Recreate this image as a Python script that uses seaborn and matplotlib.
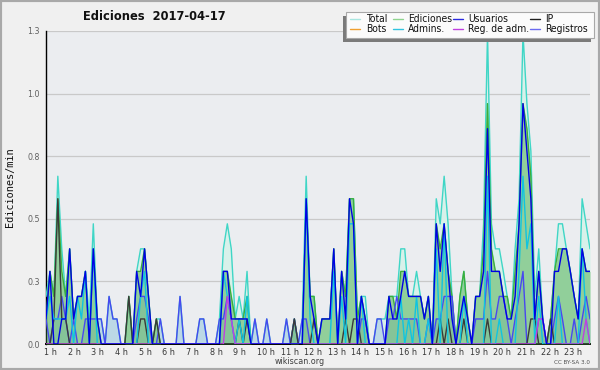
import os
import numpy as np
import pandas as pd
import matplotlib
matplotlib.use("Agg")
import matplotlib.pyplot as plt
import matplotlib.transforms as mtransforms
from matplotlib import font_manager as fm
from matplotlib.patches import Rectangle
from matplotlib.lines import Line2D
import seaborn as sns

# ---------------- data (Ediciones/min, 10-minute samples from 1 h to 24 h) ----------------
minutes = np.arange(60, 1441, 10)

total = [
    .19, .29, .19, .67, .38, .19, .38, .10, .19, .19,
    .29, .10, .48, .10, .10, 0, .19, .10, .10, 0,
    0, .19, 0, .29, .38, .38, .19, 0, .10, .10,
    0, 0, 0, 0, .19, 0, 0, 0, 0, .10,
    .10, 0, 0, 0, .10, .38, .48, .38, .10, .19,
    .10, .29, 0, .10, 0, 0, .10, 0, 0, 0,
    0, .10, 0, .10, 0, .10, .67, .19, .19, 0,
    .10, .10, .10, .38, 0, .29, .19, .58, .58, .10,
    .19, .19, 0, 0, .10, .10, .10, .19, .19, .19,
    .38, .38, .19, .19, .29, .19, .10, .19, 0, .58,
    .48, .67, .48, .19, 0, .19, .29, .10, 0, .19,
    .19, .48, 1.24, .48, .38, .38, .29, .19, .10, .38,
    .58, 1.24, .96, .77, .19, .38, .10, 0, .10, .29,
    .48, .48, .38, .29, .19, .10, .58, .48, .38]

ediciones = [
    .10, .29, .19, .58, .29, .19, .38, .10, .19, .19,
    .29, 0, .38, .10, 0, 0, 0, 0, 0, 0,
    0, .19, 0, .29, .29, .38, .19, 0, .10, 0,
    0, 0, 0, 0, 0, 0, 0, 0, 0, 0,
    0, 0, 0, 0, 0, .29, .29, .19, .10, .10,
    .10, .19, 0, 0, 0, 0, 0, 0, 0, 0,
    0, 0, 0, .10, 0, 0, .58, .19, .19, 0,
    .10, .10, .10, .38, 0, .29, .19, .58, .58, .10,
    .19, .10, 0, 0, 0, 0, 0, .19, .19, .10,
    .29, .29, .19, .19, .19, .19, .10, .19, 0, .48,
    .38, .48, .29, .19, 0, .19, .29, .10, 0, .19,
    .19, .38, .96, .38, .29, .29, .19, .19, .10, .29,
    .48, .96, .86, .67, .10, .29, .10, 0, .10, .29,
    .38, .38, .38, .29, .19, .10, .38, .29, .29]

usuarios = [
    .10, .29, 0, 0, .10, .10, .38, .10, .19, .19,
    .29, 0, .38, .10, 0, 0, 0, 0, 0, 0,
    0, 0, 0, .29, .19, .38, .19, 0, 0, 0,
    0, 0, 0, 0, 0, 0, 0, 0, 0, 0,
    0, 0, 0, 0, 0, .29, .29, .10, .10, .10,
    .10, .10, 0, 0, 0, 0, 0, 0, 0, 0,
    0, 0, 0, 0, 0, 0, .58, .19, .10, 0,
    .10, .10, .10, .38, 0, .29, .10, .58, .48, 0,
    .19, .10, 0, 0, 0, 0, 0, .19, .10, .10,
    .19, .29, .19, .19, .19, .19, .10, .19, 0, .48,
    .29, .48, .29, .10, 0, .10, .19, .10, 0, .19,
    .19, .29, .86, .29, .29, .29, .19, .10, .10, .19,
    .48, .96, .77, .58, .10, .29, .10, 0, 0, .29,
    .29, .38, .38, .29, .19, .10, .38, .29, .29]

ip = [
    0, 0, .10, .58, .10, .10, 0, 0, 0, 0,
    0, 0, 0, 0, 0, 0, 0, 0, 0, 0,
    0, .19, 0, 0, .10, .10, 0, 0, .10, 0,
    0, 0, 0, 0, 0, 0, 0, 0, 0, 0,
    0, 0, 0, 0, 0, 0, 0, 0, 0, .10,
    0, .10, 0, 0, 0, 0, 0, 0, 0, 0,
    0, 0, 0, .10, 0, 0, 0, 0, .10, 0,
    0, 0, 0, 0, 0, 0, .10, 0, .10, .10,
    0, 0, 0, 0, 0, 0, 0, 0, 0, 0,
    0, 0, 0, 0, 0, 0, 0, 0, 0, 0,
    .10, 0, .10, 0, 0, 0, .10, 0, 0, 0,
    0, 0, .10, 0, 0, 0, 0, 0, 0, 0,
    0, 0, 0, .10, .10, 0, 0, 0, .10, 0,
    0, 0, 0, 0, 0, 0, 0, 0, 0]

admins = [
    .10, .19, .10, .10, .10, .10, .19, 0, .19, .10,
    .29, 0, .38, 0, 0, 0, 0, 0, 0, 0,
    0, 0, 0, 0, .19, .29, 0, 0, 0, 0,
    0, 0, 0, 0, 0, 0, 0, 0, 0, 0,
    0, 0, 0, 0, 0, .29, .19, .10, 0, .10,
    0, .19, 0, 0, 0, 0, 0, 0, 0, 0,
    0, 0, 0, 0, 0, 0, .58, .10, 0, 0,
    0, 0, 0, .29, 0, .19, 0, .48, .48, 0,
    .19, 0, 0, 0, 0, 0, 0, 0, 0, 0,
    .19, 0, .10, 0, .19, 0, 0, .10, 0, .38,
    0, .48, 0, 0, 0, 0, .19, 0, 0, 0,
    0, 0, .67, 0, 0, .10, 0, 0, 0, 0,
    .29, .67, .38, .48, 0, .19, 0, 0, 0, 0,
    .19, 0, 0, 0, 0, 0, .38, .10, 0]

registros = [
    .10, 0, .10, .10, .19, .10, 0, .10, 0, 0,
    .10, .10, .10, .10, .10, 0, .19, .10, .10, 0,
    0, 0, 0, .10, .19, .19, .10, 0, 0, .10,
    0, 0, 0, 0, .19, 0, 0, 0, 0, .10,
    .10, 0, 0, 0, .10, .10, .19, .10, 0, 0,
    0, 0, 0, .10, 0, 0, .10, 0, 0, 0,
    0, .10, 0, .10, 0, .10, .10, 0, 0, 0,
    0, 0, 0, 0, 0, 0, 0, 0, 0, 0,
    .10, .10, 0, 0, .10, .10, 0, .10, .10, .19,
    .10, .10, .10, .10, .10, 0, 0, .10, 0, .10,
    .10, .19, .19, .19, 0, 0, 0, 0, 0, .10,
    .10, .10, .29, .10, .10, .19, .19, .10, 0, .10,
    .19, .29, 0, 0, 0, .10, .10, 0, 0, .10,
    .19, .10, 0, 0, .10, 0, .10, .19, .10]

reg_adm = [
    0, 0, 0, 0, 0, 0, 0, 0, 0, 0,
    0, 0, 0, 0, 0, 0, 0, 0, 0, 0,
    0, 0, 0, 0, 0, 0, 0, 0, 0, 0,
    0, 0, 0, 0, 0, 0, 0, 0, 0, 0,
    0, 0, 0, 0, 0, 0, .19, .10, 0, 0,
    0, 0, 0, 0, 0, 0, 0, 0, 0, 0,
    0, 0, 0, 0, 0, 0, 0, 0, 0, 0,
    0, 0, 0, 0, 0, 0, 0, 0, 0, 0,
    0, 0, 0, 0, 0, 0, 0, 0, 0, 0,
    0, 0, 0, 0, 0, 0, 0, 0, 0, 0,
    0, 0, 0, 0, 0, 0, 0, 0, 0, 0,
    0, 0, 0, 0, 0, 0, 0, 0, 0, 0,
    0, 0, 0, 0, 0, .10, .10, 0, 0, 0,
    0, 0, 0, 0, 0, 0, 0, .10, 0]

hour_ticks = list(range(1, 24))
hour_labels = [f"{h} h" for h in hour_ticks]
y_ticks = [0, 0.25, 0.5, 0.75, 1.0, 1.25]
y_labels = ["0.0", "0.3", "0.5", "0.8", "1.0", "1.3"]
legend_labels = ["Total", "Ediciones", "Usuarios", "IP",
                 "Bots", "Admins.", "Reg. de adm.", "Registros"]
legend_colors = ["#a8e6e0", "#8fd48f", "#2a2ae0", "#202020",
                 "#f0a030", "#30c4e0", "#c040e0", "#6a6af0"]

df = pd.DataFrame({
    "hora": minutes / 60.0,
    "Total": total, "Ediciones": ediciones, "Usuarios": usuarios,
    "IP": ip, "Admins": admins, "Registros": registros, "RegAdm": reg_adm,
})

# ---------------- fonts ----------------
sns.set_style("white")

def _find(names):
    names = [n.lower() for n in names]
    paths = [f.fname for f in fm.fontManager.ttflist]
    try:
        paths += fm.findSystemFonts()
    except Exception:
        pass
    for n in names:
        for p in paths:
            if os.path.basename(p).lower() == n:
                return p
    return None

REG = _find(["DejaVuSansCondensed.ttf", "LiberationSansNarrow-Regular.ttf"])
BOLD = _find(["DejaVuSansCondensed-Bold.ttf", "LiberationSansNarrow-Bold.ttf"])

def fp(size, bold=False):
    path = BOLD if bold else REG
    if path:
        return fm.FontProperties(fname=path, size=size)
    return fm.FontProperties(family="DejaVu Sans", size=size,
                             weight="bold" if bold else "normal")

plt.rcParams["font.family"] = ["DejaVu Sans"]

# ---------------- figure ----------------
W, H = 600, 370
fig = plt.figure(figsize=(6, 3.7), dpi=100, facecolor="#f0f0f0")
ax = fig.add_axes([46 / W, 1 - 344 / H, (590 - 46) / W, (344 - 31) / H])
ax.set_facecolor("#ebedf0")

x = df["hora"]
ax.fill_between(x, df["Total"], color="#d8f1ea", lw=0, zorder=1)
ax.fill_between(x, df["Registros"], color="#bcd8e6", lw=0, zorder=2)
ax.fill_between(x, df["Ediciones"], color="#58b458", alpha=0.55, lw=0, zorder=3)

lines = [
    ("Total", "#3fd6c6", 4),
    ("Ediciones", "#3cae3c", 5),
    ("Registros", "#4848f0", 6),
    ("IP", "#3a3a3a", 7),
    ("Admins", "#10c4e0", 8),
    ("RegAdm", "#c040e0", 9),
    ("Usuarios", "#0000e6", 10),
]
for col, c, z in lines:
    sns.lineplot(data=df, x="hora", y=col, ax=ax, color=c, linewidth=1.0,
                 estimator=None, sort=False, zorder=z, legend=False)

ax.set_xlim(1, 24)
ax.set_ylim(0, 1.25)
ax.set_xlabel("")
ax.set_ylabel("")

ax.set_yticks(y_ticks)
ax.set_yticklabels(y_labels)
ax.set_yticks(np.arange(0, 1.26, 0.125), minor=True)
ax.set_xticks(hour_ticks)
ax.set_xticklabels(hour_labels)
ax.set_xticks(np.arange(1, 24.01, 1 / 6), minor=True)

ax.yaxis.grid(True, which="major", color="#c9c9c9", lw=0.9)
ax.xaxis.grid(False)
ax.set_axisbelow(True)

ax.tick_params(axis="both", which="both", direction="out", length=2.4,
               width=0.9, color="black")
ax.tick_params(axis="x", which="major", pad=0.2, labelcolor="#383838")
ax.tick_params(axis="y", which="major", pad=2, labelcolor="#606060")

off = mtransforms.ScaledTranslation(-2 / 100, 0, fig.dpi_scale_trans)
for lab in ax.get_xticklabels():
    lab.set_fontproperties(fp(6.5))
    lab.set_ha("left")
    lab.set_transform(lab.get_transform() + off)
for lab in ax.get_yticklabels():
    lab.set_fontproperties(fp(6.3))

for s in ("top", "right"):
    ax.spines[s].set_visible(False)
ax.spines["left"].set_color("black")
ax.spines["left"].set_linewidth(1.0)
ax.spines["bottom"].set_color("black")
ax.spines["bottom"].set_linewidth(1.4)

# ---------------- texts ----------------
fig.text(154 / W, 1 - 16 / H, "Ediciones  2017-04-17", fontproperties=fp(9.2, True),
         ha="center", va="center", color="#111111")
fig.text(10 / W, 1 - 187 / H, "Ediciones/min", rotation=90,
         family="DejaVu Sans Mono", fontsize=7.4, ha="center", va="center",
         color="#111111")
fig.text(300 / W, 1 - 362 / H, "wikiscan.org", fontproperties=fp(6.4),
         ha="center", va="center", color="#404040")
fig.text(590 / W, 1 - 362.5 / H, "CC BY-SA 3.0", fontproperties=fp(4.5),
         ha="right", va="center", color="#505050")

# ---------------- legend (drawn in figure pixels) ----------------
def px(xp, yp):
    return xp / W, 1 - yp / H

bx0, by0, bx1, by1 = 346, 11.7, 594, 37.7
fig.add_artist(Rectangle(px(bx0 - 3, by1 + 4), (bx1 - bx0) / W, (by1 - by0) / H,
                         transform=fig.transFigure, facecolor="#7a7a7a",
                         edgecolor="none", zorder=20))
fig.add_artist(Rectangle(px(bx0, by1), (bx1 - bx0) / W, (by1 - by0) / H,
                         transform=fig.transFigure, facecolor="#fbfbfb",
                         edgecolor="#a8a8a8", lw=0.8, zorder=21))
col_handle = [350, 393, 453, 530]
col_text = [366, 408, 468, 545]
row_y = [19.3, 29.0]
for k, (lab, c) in enumerate(zip(legend_labels, legend_colors)):
    r, cidx = divmod(k, 4)
    hx = col_handle[cidx]
    fig.add_artist(Line2D([hx / W, (hx + 10) / W], [1 - row_y[r] / H] * 2,
                          transform=fig.transFigure, color=c, lw=1.0, zorder=22))
    fig.text(col_text[cidx] / W, 1 - row_y[r] / H, lab, fontproperties=fp(7.4),
             ha="left", va="center", color="#111111", zorder=23)

# outer frame
fig.add_artist(Rectangle((0, 0), 1, 1, transform=fig.transFigure, fill=False,
                         edgecolor="#a9a9a9", lw=3, zorder=30))

fig.savefig("out.png", dpi=100, facecolor=fig.get_facecolor())
